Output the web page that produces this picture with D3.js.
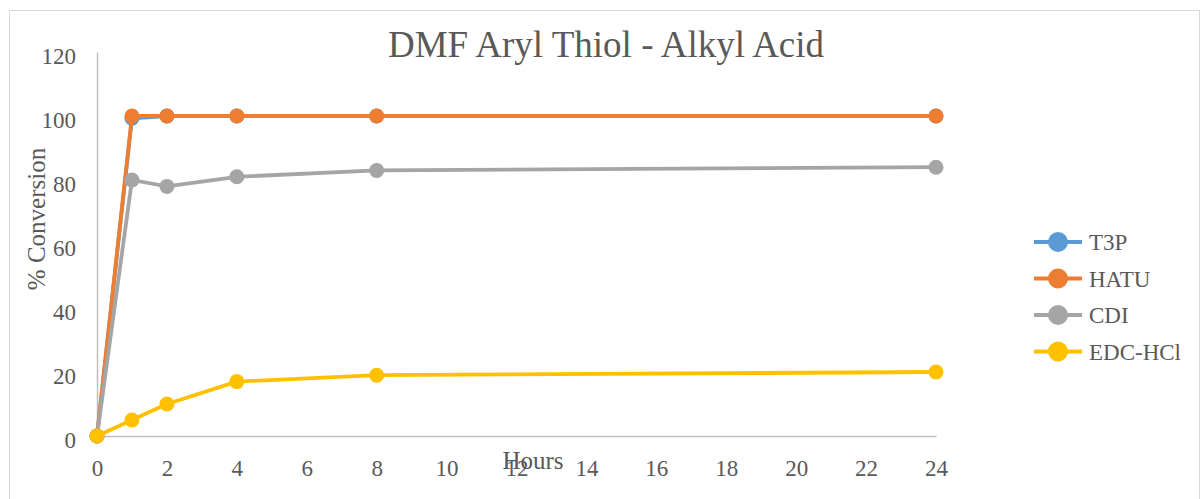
<!DOCTYPE html>
<html>
<head>
<meta charset="utf-8">
<script src="https://cdn.jsdelivr.net/npm/d3@7"></script>
<style>
  html, body { margin: 0; padding: 0; background: #fff; }
  svg { display: block; }
  svg text { font-family: "Liberation Serif", "DejaVu Serif", serif; }
</style>
</head>
<body>
<svg id="chart" width="1202" height="499"></svg>
<script>
// Reaction time points (hours) and % conversion for each coupling reagent
const hours = [0, 1, 2, 4, 8, 24];
const t3p = [0, 99.3, 100, 100, 100, 100];
const hatu = [0, 100, 100, 100, 100, 100];
const cdi = [0, 80, 78, 81, 83, 84];
const edcHcl = [0, 5, 10, 17, 19, 20];
const seriesNames = ["T3P", "HATU", "CDI", "EDC-HCl"];
const seriesColors = ["#5b9bd5", "#ed7d31", "#a5a5a5", "#ffc000"];
const xTicks = [0, 2, 4, 6, 8, 10, 12, 14, 16, 18, 20, 22, 24];
const yTicks = [0, 20, 40, 60, 80, 100, 120];

const series = [t3p, hatu, cdi, edcHcl].map((vals, i) => ({
  name: seriesNames[i],
  color: seriesColors[i],
  points: hours.map((h, j) => ({ h, v: vals[j] }))
}));

const svg = d3.select("#chart");
const textColor = "#595959";
const serif = "Liberation Serif";

// chart frame
svg.append("rect")
  .attr("x", 9.5).attr("y", 10.5)
  .attr("width", 1190).attr("height", 495)
  .attr("fill", "none").attr("stroke", "#d9d9d9").attr("stroke-width", 1);

const x = d3.scaleLinear().domain([0, 24]).range([97, 936]);
const y = d3.scaleLinear().domain([0, 120]).range([436, 52]);

// y axis: plain line with labels
const yAxis = svg.append("g").attr("transform", `translate(${x(0)},0)`)
  .call(d3.axisLeft(y).tickValues(yTicks).tickSize(0).tickPadding(21));
yAxis.attr("font-family", serif);
yAxis.select(".domain").attr("stroke", "#bfbfbf").attr("stroke-width", 1.5);
yAxis.selectAll("text").attr("fill", textColor).attr("font-size", 23)
  .attr("font-family", serif).attr("dy", "0.5em");

// x axis
const xAxis = svg.append("g").attr("transform", `translate(0,${y(0)})`)
  .call(d3.axisBottom(x).tickValues(xTicks).tickSize(0).tickPadding(24));
xAxis.attr("font-family", serif);
xAxis.select(".domain").attr("stroke", "#bfbfbf").attr("stroke-width", 1.5);
xAxis.selectAll("text").attr("fill", textColor).attr("font-size", 23)
  .attr("font-family", serif);

// series lines and markers
const line = d3.line().x(d => x(d.h)).y(d => y(d.v));
series.forEach(s => {
  const g = svg.append("g");
  g.append("path").datum(s.points)
    .attr("d", line).attr("fill", "none")
    .attr("stroke", s.color).attr("stroke-width", 3.8)
    .attr("stroke-linejoin", "round");
  g.selectAll("circle").data(s.points).join("circle")
    .attr("cx", d => x(d.h)).attr("cy", d => y(d.v))
    .attr("r", 7.5).attr("fill", s.color);
});

// title
svg.append("text")
  .attr("x", 606).attr("y", 57)
  .attr("text-anchor", "middle")
  .attr("font-family", serif)
  .attr("font-size", 37).attr("fill", textColor)
  .text("DMF Aryl Thiol - Alkyl Acid");

// axis titles
svg.append("text")
  .attr("transform", "translate(45,219) rotate(-90)")
  .attr("text-anchor", "middle")
  .attr("font-family", serif)
  .attr("font-size", 25).attr("fill", textColor)
  .text("% Conversion");

svg.append("text")
  .attr("x", 533).attr("y", 469)
  .attr("text-anchor", "middle")
  .attr("font-family", serif)
  .attr("font-size", 25).attr("fill", textColor)
  .text("Hours");

// legend
const legend = svg.append("g");
series.forEach((s, i) => {
  const cy = 242 + i * 36.5;
  legend.append("line")
    .attr("x1", 1034).attr("x2", 1082).attr("y1", cy).attr("y2", cy)
    .attr("stroke", s.color).attr("stroke-width", 3.8);
  legend.append("circle")
    .attr("cx", 1058).attr("cy", cy).attr("r", 10).attr("fill", s.color);
  legend.append("text")
    .attr("x", 1089).attr("y", cy + 8)
    .attr("font-family", serif)
    .attr("font-size", 23).attr("fill", textColor)
    .text(s.name);
});
</script>
</body>
</html>
